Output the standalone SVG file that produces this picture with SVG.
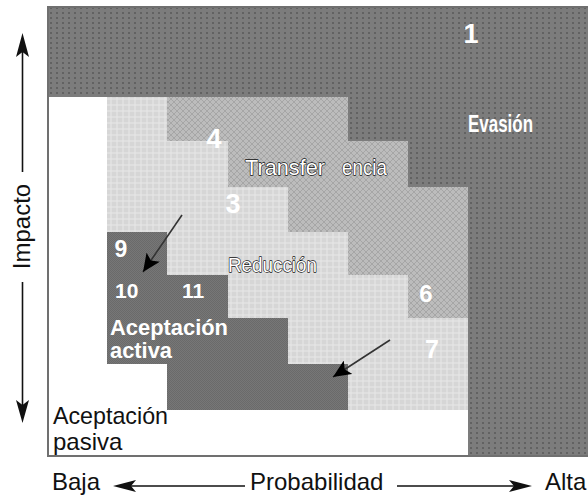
<svg xmlns="http://www.w3.org/2000/svg" width="588" height="497" viewBox="0 0 588 497">
<defs>
<pattern id="pDark" width="6" height="5" patternUnits="userSpaceOnUse"><rect width="6" height="5" fill="#7c7c7c"/><rect x="2" y="2" width="2" height="2" fill="#626262"/></pattern>
<pattern id="pAct" width="2" height="2" patternUnits="userSpaceOnUse"><rect width="2" height="2" fill="#777777"/><rect width="1" height="1" fill="#6a6a6a"/><rect x="1" y="1" width="1" height="1" fill="#6a6a6a"/></pattern>
<pattern id="pMed" width="6" height="6" patternUnits="userSpaceOnUse"><rect width="6" height="6" fill="#bcbcbc"/><path d="M0 0L6 6M6 0L0 6" stroke="#a6a6a6" stroke-width="1"/></pattern>
<pattern id="pLight" width="6" height="6" patternUnits="userSpaceOnUse"><rect width="6" height="6" fill="#d6d6d6"/><path d="M3 0V6M0 3H6" stroke="#e8e8e8" stroke-width="1"/></pattern>
<marker id="ah" markerUnits="userSpaceOnUse" markerWidth="20" markerHeight="16" refX="18" refY="8" orient="auto"><path d="M0,0 L18,8 L0,16 L4,8 Z" fill="#000"/></marker>
<style>
.num{font-family:"Liberation Sans",Arial,sans-serif;font-weight:bold;fill:#fff}
.out{font-family:"Liberation Sans",Arial,sans-serif;fill:#fff;stroke:#111;stroke-width:1.3;paint-order:stroke;stroke-linejoin:round}
.lab{font-family:"Liberation Sans",Arial,sans-serif;font-size:24px;fill:#111}
.ax{stroke:#111;stroke-width:1.6;fill:none}
.head{fill:#111}
.conn{stroke:#333;stroke-width:1.6;fill:none}
</style>
</defs>
<g id="evasion">
<rect x="48" y="7" width="545" height="449" fill="url(#pDark)" stroke="#707070" stroke-width="2"/>
<text class="num" x="471" y="43" font-size="27" text-anchor="middle">1</text>
<text class="num" x="468" y="132" font-size="23" textLength="65" lengthAdjust="spacingAndGlyphs">Evasión</text>
</g>
<g id="aceptacion-pasiva">
<polygon points="49,97 107,97 107,364 167,364 167,410 468,410 468,455 49,455" fill="#fff"/>
<text class="lab" x="53" y="424" font-size="22" textLength="115" lengthAdjust="spacingAndGlyphs">Aceptación</text>
<text class="lab" x="53" y="450" font-size="22">pasiva</text>
</g>
<g id="reduccion">
<polygon points="107,97 348,97 348,141 408,141 408,187 468,187 468,410 167,410 167,364 107,364" fill="url(#pLight)"/>
</g>
<g id="transferencia">
<polygon points="167,97 348,97 348,141 408,141 408,187 468,187 468,318 408,318 408,275 348,275 348,232 288,232 288,187 228,187 228,141 167,141" fill="url(#pMed)"/>
</g>
<g id="aceptacion-activa">
<polygon points="107,232 167,232 167,275 228,275 228,318 288,318 288,364 348,364 348,410 167,410 167,364 107,364" fill="url(#pAct)"/>
</g>
<g id="labels">
<text class="num" x="214" y="148" font-size="27" text-anchor="middle">4</text>
<text class="num" x="233" y="213" font-size="27" text-anchor="middle">3</text>
<text class="num" x="426" y="302" font-size="24" text-anchor="middle">6</text>
<text class="num" x="432" y="358" font-size="25" text-anchor="middle">7</text>
<text class="num" x="121" y="257" font-size="23" text-anchor="middle">9</text>
<text class="num" x="115" y="298" font-size="21">10</text>
<text class="num" x="182" y="298" font-size="21">11</text>
<text class="num" x="110" y="335" font-size="22" textLength="118" lengthAdjust="spacingAndGlyphs">Aceptación</text>
<text class="num" x="110" y="358" font-size="22" textLength="62" lengthAdjust="spacingAndGlyphs">activa</text>
<text class="out" x="245" y="175" font-size="22" textLength="80" lengthAdjust="spacingAndGlyphs">Transfer</text>
<text class="out" x="342" y="175" font-size="22" textLength="45" lengthAdjust="spacingAndGlyphs">encia</text>
<text class="out" x="228" y="272" font-size="21" textLength="89" lengthAdjust="spacingAndGlyphs">Reducción</text>
</g>
<g id="connectors">
<line class="conn" x1="182" y1="215" x2="143" y2="272" marker-end="url(#ah)"/>
<line class="conn" x1="390" y1="340" x2="333" y2="377" marker-end="url(#ah)"/>
</g>
<g id="axes">
<line class="ax" x1="22.5" y1="50" x2="22.5" y2="172"/>
<path class="head" d="M22.5,33 L29,57 L22.5,52 L16,57 Z"/>
<line class="ax" x1="22.5" y1="282" x2="22.5" y2="408"/>
<path class="head" d="M22.5,423 L16,400 L22.5,405 L29,400 Z"/>
<text class="lab" transform="translate(30,226.5) rotate(-90)" text-anchor="middle" font-size="25">Impacto</text>
<text class="lab" x="52" y="490">Baja</text>
<line class="ax" x1="128" y1="486" x2="245" y2="486"/>
<path class="head" d="M113,486 L136,480 L131,486 L136,492 Z"/>
<text class="lab" x="250" y="490">Probabilidad</text>
<line class="ax" x1="397" y1="486" x2="517" y2="486"/>
<path class="head" d="M532,486 L509,480 L514,486 L509,492 Z"/>
<text class="lab" x="545" y="490">Alta</text>
</g>
</svg>
